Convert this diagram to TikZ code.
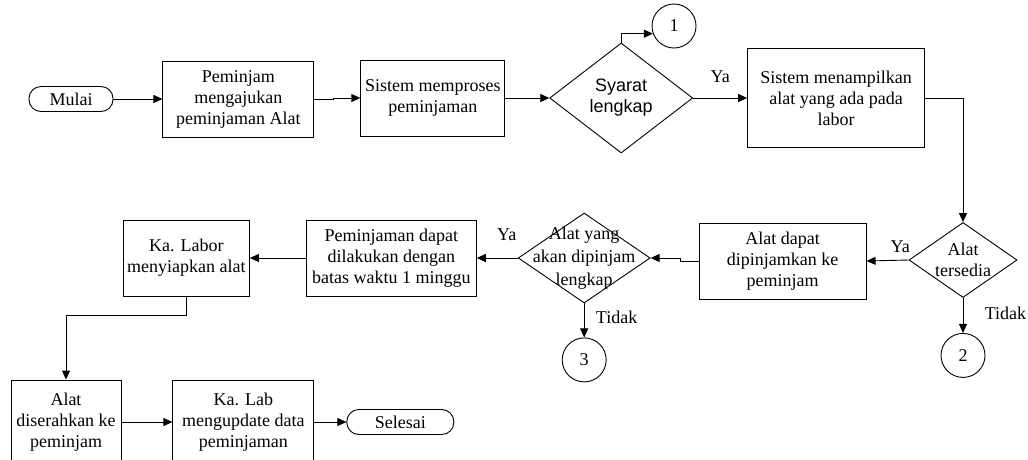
\documentclass[tikz,border=0pt]{standalone}
\usepackage{fontspec}
\setmainfont{Liberation Serif}
\setsansfont{Liberation Sans}
\usetikzlibrary{shapes.geometric, arrows.meta, positioning}

\begin{document}
\begin{tikzpicture}[
    x=1pt, y=-1pt,
    every node/.style={font=\fontsize{18pt}{21pt}\selectfont},
    proc/.style={rectangle, draw, line width=0.9pt, minimum height=76pt, align=center, inner sep=2pt},
    term/.style={rectangle, draw, rounded corners=12pt, line width=0.9pt, minimum height=25pt, inner sep=2pt},
    decision/.style={diamond, draw, line width=0.9pt, inner sep=0pt},
    conn/.style={circle, draw, line width=0.9pt, minimum size=44pt, inner sep=0pt},
    lbl/.style={align=center, inner sep=0pt},
    arr/.style={-{Triangle[length=9pt, width=8pt]}, line width=0.9pt}
]
\path[use as bounding box] (0,0) rectangle (1028,459);
\clip (0,0) rectangle (1028,459);

\node[term, minimum width=84pt] (mulai) at (71,99) {Mulai};
\node[proc, minimum width=151pt, right=49pt of mulai] (pinjam) {Peminjam\\mengajukan\\peminjaman Alat};
\node[proc, minimum width=144pt, right=46pt of pinjam, yshift=1pt] (proses) {Sistem memproses\\peminjaman};
\node[decision, minimum width=143pt, minimum height=110pt, right=44pt of proses] (syarat) {};
\node[lbl, font=\sffamily\fontsize{18pt}{21pt}\selectfont] (syarattxt) at (syarat) {Syarat\\lengkap};
\node[proc, minimum width=177pt, minimum height=99pt, right=54pt of syarat] (tampil) {Sistem menampilkan\\alat yang ada pada\\labor};
\node[conn] (c1) at (674,26) {1};

\node[decision, minimum width=108pt, minimum height=75pt] (tersedia) at (963,260) {};
\node[lbl] (tersediatxt) at (tersedia) {Alat\\tersedia};
\node[proc, minimum width=167pt, left=42pt of tersedia, yshift=-1pt] (dapat) {Alat dapat\\dipinjamkan ke\\peminjam};
\node[decision, minimum width=132pt, minimum height=90pt, left=48pt of dapat, yshift=3pt] (lengkap) {};
\node[lbl, font=\fontsize{18pt}{23pt}\selectfont] (lengkaptxt) at (lengkap) {Alat yang\\akan dipinjam\\lengkap};
\node[proc, minimum width=170pt, left=41pt of lengkap] (batas) {Peminjaman dapat\\dilakukan dengan\\batas waktu 1 minggu};
\node[proc, minimum width=126pt, left=56pt of batas] (siap) {Ka. Labor\\menyiapkan alat};
\node[conn, below=35pt of tersedia] (c2) {2};
\node[conn, below=34pt of lengkap] (c3) {3};

\node[proc, minimum width=110pt, minimum height=84pt] (serah) at (66,422) {Alat\\diserahkan ke\\peminjam};
\node[proc, minimum width=141pt, minimum height=84pt, right=51pt of serah] (update) {Ka. Lab\\mengupdate data\\peminjaman};
\node[term, minimum width=107pt, right=32pt of update] (selesai) {Selesai};

\draw[arr] (mulai) -- (pinjam);
\draw[arr] (pinjam.east) -- ++(19,0) |- (proses.west);
\draw[arr] (proses) -- (syarat);
\draw[arr] (syarat.north) |- (c1.200);
\draw[arr] (syarat.east) -- node[midway, above=12pt] (ya1) {Ya} (tampil.west);
\draw[arr] (tampil.east) -| (tersedia.north);
\draw[arr] (tersedia.west) -- node[pos=0.2, above=4pt] (ya2) {Ya} (dapat.east);
\draw[arr] (tersedia.south) -- node[pos=0.45, right=18pt] (tidak2) {Tidak} (c2);
\draw[arr] (dapat.west) -- ++(-18,0) |- (lengkap.east);
\draw[arr] (lengkap.west) -- node[pos=0.27, above=14pt] (ya3) {Ya} (batas.east);
\draw[arr] (lengkap.south) -- node[pos=0.41, right=8pt] (tidak3) {Tidak} (c3);
\draw[arr] (batas) -- (siap);
\draw[arr] (siap.south) -- ++(0,19) -| (serah.north);
\draw[arr] (serah) -- (update);
\draw[arr] (update) -- (selesai);
\end{tikzpicture}
\end{document}
